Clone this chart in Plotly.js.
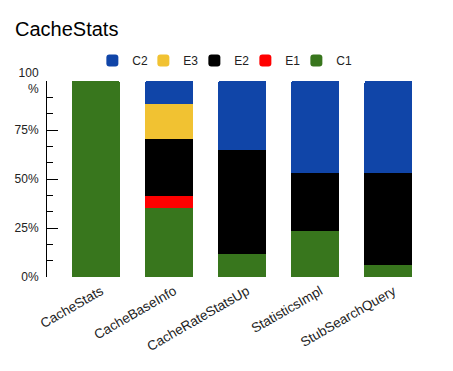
<!DOCTYPE html>
<html>
<head>
<meta charset="utf-8">
<script src="https://cdn.plot.ly/plotly-3.0.1.min.js"></script>
<style>
  html, body { margin: 0; padding: 0; background: #fff; }
  #chart { width: 453px; height: 371px; }
</style>
</head>
<body>
<div id="chart"></div>
<script>
// Categories along the x axis
const classes = ["CacheStats", "CacheBaseInfo", "CacheRateStatsUp", "StatisticsImpl", "StubSearchQuery"];

// Share of each series per class, in percent (stacked bottom to top)
const c1 = [100, 35.29, 11.76, 23.53, 5.88];
const e1 = [0, 5.88, 0, 0, 0];
const e2 = [0, 29.41, 52.94, 29.41, 47.06];
const e3 = [0, 17.65, 0, 0, 0];
const c2 = [0, 11.76, 35.29, 47.06, 47.06];

// y axis ticks
const yTickVals = [0, 25, 50, 75, 100];
const yTickText = ["0%", "25%", "50%", "75%", "100<br>%"];

const series = [
    { name: "C1", y: c1, color: "#38761d" },
    { name: "E1", y: e1, color: "#ff0000" },
    { name: "E2", y: e2, color: "#000000" },
    { name: "E3", y: e3, color: "#f1c232" },
    { name: "C2", y: c2, color: "#1045a8" }
];

const traces = series.map(s => ({
    type: 'bar',
    name: s.name,
    x: classes,
    y: s.y,
    marker: { color: s.color, line: { width: 0 } },
    hoverinfo: 'x+y+name'
}));

// blank legend spacer so the last label ("C1") is not clipped
traces.unshift({
    type: 'scatter',
    mode: 'lines',
    name: ' ',
    x: [null],
    y: [null],
    line: { color: 'rgba(0,0,0,0)' },
    hoverinfo: 'skip',
    showlegend: true
});

const layout = {
    width: 453,
    height: 371,
    font: { family: "Liberation Sans, Arial, sans-serif", size: 12, color: "#222" },
    paper_bgcolor: "#fff",
    plot_bgcolor: "#fff",
    title: {
        text: "CacheStats",
        font: { size: 20, color: "#000" },
        x: 15 / 453,
        xref: 'container',
        xanchor: 'left',
        y: 1 - 29 / 371,
        yref: 'container',
        yanchor: 'middle'
    },
    barmode: 'stack',
    bargap: 0.343,
    barcornerradius: 2,
    margin: { l: 47, r: 28, t: 81, b: 94 },
    showlegend: true,
    legend: {
        orientation: 'h',
        traceorder: 'reversed',
        entrywidth: 6,
        x: 0.12,
        xanchor: 'left',
        y: 1.105,
        yanchor: 'middle',
        font: { size: 12, color: "#222" },
        itemclick: false
    },
    xaxis: {
        type: 'category',
        range: [-0.669, 4.5],
        showline: false,
        showgrid: false,
        zeroline: false,
        ticks: '',
        tickangle: -30,
        ticklabelstandoff: 3,
        ticklabelshift: 5,
        tickfont: { size: 13.5, color: "#222" }
    },
    yaxis: {
        range: [0, 100],
        tickmode: 'array',
        tickvals: yTickVals,
        ticktext: yTickText,
        ticks: 'inside',
        ticklen: 11,
        tickcolor: "#000",
        showline: true,
        linecolor: "#000",
        linewidth: 1,
        showgrid: false,
        zeroline: false,
        ticklabelstandoff: 5,
        minor: {
            tickmode: 'linear',
            tick0: 0,
            dtick: 25 / 3,
            ticks: 'inside',
            ticklen: 6,
            tickcolor: "#000",
            showgrid: false
        }
    }
};

Plotly.newPlot('chart', traces, layout, { displayModeBar: false, staticPlot: true });
</script>
</body>
</html>
